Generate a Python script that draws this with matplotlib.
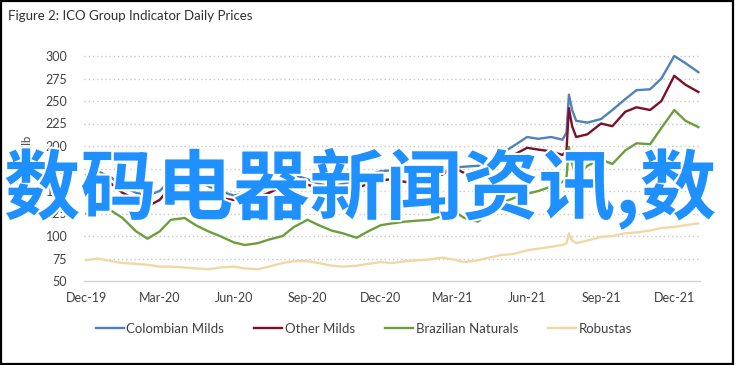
import pandas as pd
import matplotlib
matplotlib.use("Agg")
import matplotlib.pyplot as plt
import matplotlib.dates as mdates
import matplotlib.patheffects as pe
from matplotlib.patches import Rectangle

# semi-monthly readings, with a few extra points around the July 2021 frost spike
dates = [
    "2019-12-01", "2019-12-15", "2020-01-01", "2020-01-15", "2020-02-01", "2020-02-15",
    "2020-03-01", "2020-03-15", "2020-04-01", "2020-04-15", "2020-05-01", "2020-05-15",
    "2020-06-01", "2020-06-15", "2020-07-01", "2020-07-15", "2020-08-01", "2020-08-15",
    "2020-09-01", "2020-09-15", "2020-10-01", "2020-10-15", "2020-11-01", "2020-11-15",
    "2020-12-01", "2020-12-15", "2021-01-01", "2021-01-15", "2021-02-01", "2021-02-15",
    "2021-03-01", "2021-03-15", "2021-04-01", "2021-04-15", "2021-05-01", "2021-05-15",
    "2021-06-01", "2021-06-15", "2021-07-01", "2021-07-15", "2021-07-20", "2021-07-23",
    "2021-07-27", "2021-08-01", "2021-08-15", "2021-09-01", "2021-09-15", "2021-10-01",
    "2021-10-15", "2021-11-01", "2021-11-15", "2021-12-01", "2021-12-15", "2021-12-31",
]

colombian = [
    168, 172, 165, 155, 148, 145, 150, 162, 165, 163, 155, 150,
    145, 147, 150, 155, 163, 168, 163, 158, 155, 158, 162, 168,
    172, 173, 172, 174, 172, 170, 176, 177, 178, 183, 192, 200,
    210, 208, 210, 207, 215, 257, 240, 228, 226, 230, 240, 252,
    262, 263, 275, 300, 292, 282,
]
other = [
    162, 165, 158, 148, 140, 133, 140, 155, 158, 150, 148, 142,
    140, 142, 143, 148, 155, 160, 157, 153, 150, 152, 153, 158,
    162, 163, 160, 163, 164, 168, 176, 170, 166, 176, 184, 190,
    198, 196, 194, 190, 195, 242, 222, 210, 213, 225, 222, 238,
    243, 240, 250, 278, 268, 260,
]
brazilian = [
    125, 130, 128, 120, 105, 97, 105, 118, 120, 112, 105, 100,
    93, 90, 92, 96, 100, 110, 118, 112, 106, 103, 98, 105,
    112, 114, 116, 117, 118, 122, 128, 120, 116, 126, 137, 142,
    147, 150, 155, 160, 165, 199, 180, 166, 178, 185, 180, 195,
    203, 202, 220, 240, 228, 221,
]
robustas = [
    73, 75, 72, 70, 69, 68, 66, 66, 65, 64, 63, 65,
    66, 64, 63, 66, 70, 72, 72, 70, 67, 66, 67, 69,
    71, 70, 72, 73, 74, 76, 74, 71, 73, 76, 79, 80,
    84, 86, 88, 90, 92, 103, 95, 92, 95, 99, 100, 103,
    104, 106, 109, 110, 112, 114,
]

series = [
    ("Colombian Milds", colombian, "#4f81bd"),
    ("Other Milds", other, "#7b1028"),
    ("Brazilian Naturals", brazilian, "#6a9f3c"),
    ("Robustas", robustas, "#efd8a4"),
]
yticks = [50, 75, 100, 125, 150, 175, 200, 225, 250, 275, 300]

plt.rcParams["font.family"] = ["Lato", "DejaVu Sans"]
txt = "#404040"

fig = plt.figure(figsize=(7.36, 3.65), dpi=100)
# outer frame
fig.patches.append(Rectangle((0.002, 0.004), 0.994, 0.993, transform=fig.transFigure,
                             fill=False, edgecolor="black", linewidth=1.6))
fig.text(8 / 736, 1 - 16 / 365, "Figure 2: ICO Group Indicator Daily Prices",
         fontsize=9.5, color="#303030", va="center", ha="left")

ax = fig.add_axes([84 / 736, (365 - 281) / 365, 616 / 736, 234 / 365])
x = pd.to_datetime(dates)
for name, vals, col in series:
    ax.plot(x, vals, color=col, linewidth=1.7, label=name)

ax.set_ylim(50, 310)
ax.set_xlim(pd.Timestamp("2019-11-28"), pd.Timestamp("2022-01-02"))
ax.set_yticks(yticks)
ax.set_yticklabels([str(v) for v in yticks])
ax.xaxis.set_major_locator(mdates.MonthLocator(bymonth=[3, 6, 9, 12]))
ax.xaxis.set_major_formatter(mdates.DateFormatter("%b-%y"))

for v in yticks[1:]:
    ax.axhline(v, color="#c8c8c8", linewidth=1.0, linestyle=(0, (1, 2)), zorder=0)

for s in ["top", "right", "left"]:
    ax.spines[s].set_visible(False)
ax.spines["bottom"].set_color("#d0d0d0")
ax.spines["bottom"].set_linewidth(1.0)
ax.tick_params(length=0, labelsize=9, labelcolor=txt, pad=12)
ax.tick_params(axis="x", pad=8)
ax.set_ylabel("US cents/lb", fontsize=8, color=txt, labelpad=9)

fig.legend(loc="center", bbox_to_anchor=(364 / 736, 1 - 329 / 365), ncol=4,
           frameon=False, fontsize=9.5, handlelength=2.1, handletextpad=0.2,
           columnspacing=2.3, labelcolor=txt)

# watermark overlay
fig.text(360 / 736, 1 - 189 / 365, "数码电器新闻资讯,数", fontsize=55,
         family=["Noto Sans CJK SC", "DejaVu Sans"], weight="bold", color="#1e90ff",
         ha="center", va="center", zorder=10,
         path_effects=[pe.withStroke(linewidth=3, foreground="white")])

fig.savefig("out.png", dpi=100)
